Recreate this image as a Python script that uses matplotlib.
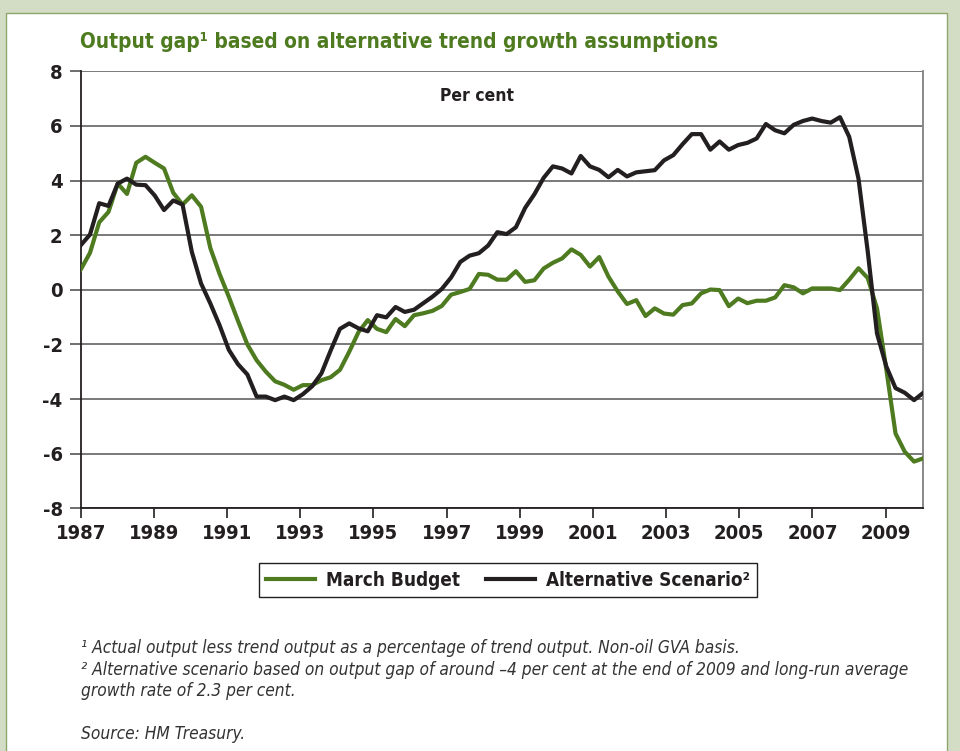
import numpy as np
import matplotlib
matplotlib.use("Agg")
import matplotlib.pyplot as plt
from matplotlib import font_manager as fm
from matplotlib.patches import Rectangle

# ---------------- data (quarterly, 1987Q1 onwards) ----------------
march_budget = [
    0.74, 1.35, 2.47, 2.85, 3.89, 3.51, 4.65, 4.87, 4.65, 4.44,
    3.55, 3.12, 3.46, 3.04, 1.53, 0.58, -0.26, -1.15, -2.00, -2.58,
    -3.00, -3.35, -3.48, -3.66, -3.49, -3.49, -3.31, -3.20, -2.93, -2.27,
    -1.55, -1.11, -1.43, -1.55, -1.07, -1.33, -0.93, -0.86, -0.77, -0.59,
    -0.18, -0.08, 0.03, 0.58, 0.55, 0.37, 0.37, 0.68, 0.29, 0.35,
    0.78, 0.99, 1.15, 1.48, 1.28, 0.85, 1.20, 0.48, -0.06, -0.52,
    -0.38, -0.96, -0.68, -0.87, -0.91, -0.56, -0.50, -0.13, 0.01, -0.01,
    -0.60, -0.32, -0.49, -0.40, -0.40, -0.28, 0.17, 0.09, -0.13, 0.05,
    0.05, 0.05, -0.01, 0.37, 0.79, 0.43, -0.68, -2.90, -5.26, -5.93,
    -6.29, -6.17,
]
alternative = [
    1.63, 2.02, 3.17, 3.07, 3.89, 4.07, 3.85, 3.83, 3.45, 2.92,
    3.27, 3.12, 1.39, 0.23, -0.50, -1.30, -2.20, -2.73, -3.10, -3.91,
    -3.91, -4.04, -3.91, -4.04, -3.82, -3.53, -3.06, -2.22, -1.43, -1.23,
    -1.41, -1.52, -0.93, -1.01, -0.63, -0.81, -0.73, -0.49, -0.25, 0.03,
    0.45, 1.02, 1.25, 1.34, 1.62, 2.11, 2.04, 2.29, 3.00, 3.50,
    4.10, 4.52, 4.44, 4.26, 4.90, 4.52, 4.39, 4.12, 4.39, 4.15,
    4.30, 4.34, 4.38, 4.74, 4.93, 5.33, 5.70, 5.70, 5.13, 5.43,
    5.13, 5.30, 5.38, 5.54, 6.07, 5.84, 5.73, 6.04, 6.18, 6.27,
    6.18, 6.12, 6.32, 5.60, 4.07, 1.40, -1.60, -2.80, -3.60, -3.77,
    -4.04, -3.77,
]
year_ticks = [1987, 1989, 1991, 1993, 1995, 1997, 1999, 2001, 2003, 2005, 2007, 2009]
y_ticks = [-8, -6, -4, -2, 0, 2, 4, 6, 8]
series_names = ["March Budget", "Alternative Scenario\u00b2"]

title = "Output gap\u00b9 based on alternative trend growth assumptions"
unit_label = "Per cent"
footnotes = [
    "\u00b9 Actual output less trend output as a percentage of trend output. Non-oil GVA basis.",
    "\u00b2 Alternative scenario based on output gap of around \u20134 per cent at the end of 2009 and long-run average",
    "growth rate of 2.3 per cent.",
]
source = "Source: HM Treasury."

# ---------------- fonts ----------------
def find_font(bold=False, italic=False):
    best = None
    for f in fm.fontManager.ttflist:
        fn = f.fname.lower()
        if not ("condensed" in fn or "narrow" in fn or f.stretch in ("condensed", "semi-condensed")):
            continue
        if "extra" in fn or "ultra" in fn or "semi" in fn:
            continue
        is_bold = (f.weight in ("bold", 700) or "bold" in fn)
        is_it = f.style in ("italic", "oblique")
        if is_bold != bold or is_it != italic:
            continue
        score = 0
        if "liberation" in fn:
            score += 3
        if "dejavu" in fn:
            score += 2
        if "noto" in fn:
            score += 1
        if best is None or score > best[0]:
            best = (score, f.fname)
    return best[1] if best else None

fb = find_font(bold=True)
fi = find_font(italic=True)
BOLD = fm.FontProperties(fname=fb) if fb else fm.FontProperties(family="Roboto", weight="bold")
ITAL = fm.FontProperties(fname=fi) if fi else fm.FontProperties(family="Liberation Sans", style="italic")


def fp(base, size):
    p = base.copy()
    p.set_size(size)
    return p


plt.rcParams["axes.unicode_minus"] = False

GREEN = "#4e7b20"
BLACK = "#231f20"

W, H = 960, 751
fig = plt.figure(figsize=(W / 100, H / 100), dpi=100)
fig.patch.set_facecolor("#d3ddc5")
panel = Rectangle((6 / W, -0.02), (947 - 6) / W, 1.02 - 12.7 / H,
                  transform=fig.transFigure, facecolor="white",
                  edgecolor="#8ea66c", lw=1.0, zorder=-10)
fig.patches.append(panel)

ax = fig.add_axes([80.7 / W, 1 - 508.3 / H, (923.3 - 80.7) / W, (508.3 - 71.3) / H], zorder=2)
ax.set_facecolor("white")

n = len(march_budget)
span = 23.03
x = 1987 + np.arange(n) * span / (n - 1)

ax.plot(x, march_budget, color=GREEN, lw=3.0, label=series_names[0], zorder=3)
ax.plot(x, alternative, color=BLACK, lw=3.0, label=series_names[1], zorder=4)

ax.set_xlim(1987, 1987 + span)
ax.set_ylim(-8, 8)
ax.set_yticks(y_ticks)
ax.set_yticklabels([str(v) for v in y_ticks])
ax.set_xticks(year_ticks)
ax.set_xticklabels([str(v) for v in year_ticks])

for v in y_ticks:
    ax.axhline(v, color="#6e6e6e", lw=1.3, zorder=1)

ax.spines["top"].set_visible(False)
ax.spines["right"].set_color("#808080")
ax.spines["right"].set_linewidth(1.3)
ax.spines["left"].set_color(BLACK)
ax.spines["left"].set_linewidth(1.3)
ax.spines["bottom"].set_color(BLACK)
ax.spines["bottom"].set_linewidth(1.3)

ax.tick_params(axis="y", direction="out", length=8, width=1.2, color="#555555", pad=5)
ax.tick_params(axis="x", direction="out", length=7, width=1.2, color=BLACK, pad=4)
for lab in ax.get_xticklabels() + ax.get_yticklabels():
    lab.set_fontproperties(fp(BOLD, 14.5))
    lab.set_color(BLACK)

ax.text(0.4705, 0.943, unit_label, transform=ax.transAxes, ha="center", va="center",
        fontproperties=fp(BOLD, 12.5), color=BLACK)

title_t = fig.text(80 / W, 1 - 42 / H, title, ha="left", va="center",
                   fontproperties=fp(BOLD, 19.5), color=GREEN)

leg = fig.legend(loc="center", bbox_to_anchor=(508 / W, 1 - 580 / H), ncol=2,
                 frameon=True, fancybox=False, edgecolor=BLACK, framealpha=1,
                 handlelength=2.6, handletextpad=0.55, columnspacing=1.4,
                 borderpad=0.4, prop=fp(BOLD, 13.6))
leg.get_frame().set_linewidth(1.0)
for t in leg.get_texts():
    t.set_color(BLACK)

foot_texts = []
fy = [648, 670, 691]
for t, yy in zip(footnotes, fy):
    foot_texts.append(fig.text(81 / W, 1 - yy / H, t, ha="left", va="center",
                               fontproperties=fp(ITAL, 12.4), color="#333333"))
foot_texts.append(fig.text(81 / W, 1 - 734 / H, source, ha="left", va="center",
                           fontproperties=fp(ITAL, 12.4), color="#333333"))

# shrink texts whose font is wider than the reference layout allows
fig.canvas.draw()
r = fig.canvas.get_renderer()


def fit(t, target):
    w = t.get_window_extent(r).width
    if w > target:
        t.set_fontsize(t.get_fontsize() * target / w)


fit(title_t, 636)
fit(foot_texts[1], 826)

fig.savefig("out.png", dpi=100, facecolor=fig.get_facecolor())
